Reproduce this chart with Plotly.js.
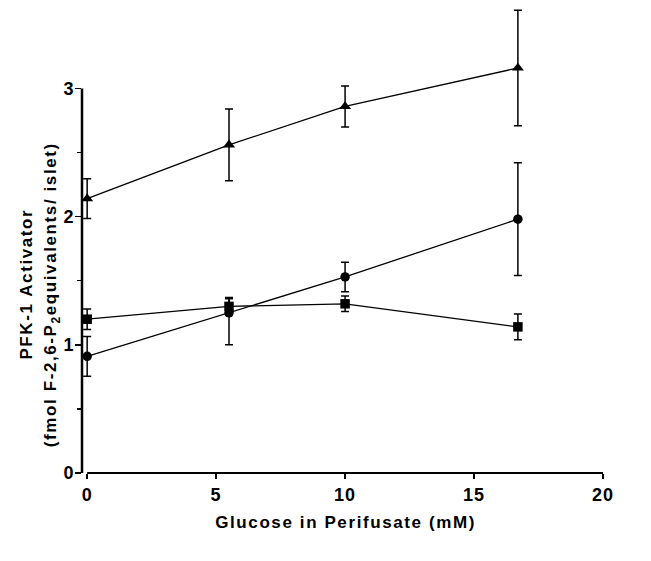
<!DOCTYPE html>
<html>
<head>
<meta charset="utf-8">
<script src="https://cdn.plot.ly/plotly-3.0.1.min.js"></script>
<style>
html,body{margin:0;padding:0;background:#fff;}
#chart{width:651px;height:561px;}
#chart .annotation-text{letter-spacing:1.6px;}
#chart .xtick text, #chart .ytick text{letter-spacing:1px;}
</style>
</head>
<body>
<div id="chart"></div>
<script>
var glucose = [0, 5.5, 10, 16.7];
var triangleVals = [2.14, 2.56, 2.86, 3.16];
var triangleErr = [0.155, 0.28, 0.16, 0.45];
var circleVals = [0.91, 1.25, 1.53, 1.98];
var circleErrUp = [0.155, 0.11, 0.115, 0.44];
var circleErrDown = [0.155, 0.25, 0.115, 0.44];
var squareVals = [1.20, 1.30, 1.32, 1.14];
var squareErr = [0.08, 0.07, 0.06, 0.10];
var xTicks = [0, 5, 10, 15, 20];
var yTicks = [0, 1, 2, 3];
var xTitle = 'Glucose in Perifusate (mM)';
var yTitleLine1 = 'PFK-1 Activator';
var yTitleLine2 = '(fmol F-2,6-P<sub>2</sub>equivalents/ islet)';

var FONT = 'Liberation Sans, Arial, sans-serif';
function series(vals, up, down, sym, size) {
  return {
    x: glucose, y: vals, type: 'scatter', mode: 'lines+markers',
    line: {color: '#000', width: 1.3},
    marker: {symbol: sym, size: size, color: '#000'},
    error_y: {type: 'data', symmetric: false, array: up, arrayminus: down, visible: true, color: '#000', thickness: 1.5, width: 4},
    cliponaxis: false, showlegend: false
  };
}
var data = [
  series(triangleVals, triangleErr, triangleErr, 'triangle-up', 10.5),
  series(circleVals, circleErrUp, circleErrDown, 'circle', 9.5),
  series(squareVals, squareErr, squareErr, 'square', 9.5)
];
var titleFont = {family: FONT, size: 17, color: '#000', weight: 'bold'};
var tickFont = {family: FONT, size: 18, color: '#000', weight: 'bold'};
var layout = {
  width: 651, height: 561,
  margin: {l: 82, r: 48, t: 9, b: 88},
  paper_bgcolor: '#fff', plot_bgcolor: '#fff',
  font: {family: FONT, color: '#000', size: 17},
  xaxis: {
    range: [-0.2, 20], tickvals: xTicks, ticktext: xTicks.map(String),
    ticks: 'outside', ticklen: 5, tickwidth: 1.5, tickcolor: '#000',
    showgrid: false, zeroline: false, showline: false, tickfont: tickFont
  },
  yaxis: {
    range: [0, 3.62], tickvals: yTicks, ticktext: yTicks.map(String),
    ticks: 'outside', ticklen: 6, tickwidth: 1.5, tickcolor: '#000',
    ticklabelstandoff: -3,
    minor: {tickvals: [0.5, 1.5, 2.5], ticks: 'outside', ticklen: 4, tickwidth: 1.3, tickcolor: '#000'},
    showgrid: false, zeroline: false, showline: false, tickfont: tickFont
  },
  shapes: [
    {type: 'line', xref: 'paper', yref: 'y', x0: 0, x1: 0, y0: 0, y1: 3, line: {color: '#000', width: 2.5}},
    {type: 'line', xref: 'x', yref: 'paper', x0: 0, x1: 20, y0: 0, y1: 0, line: {color: '#000', width: 2}}
  ],
  annotations: [
    {text: xTitle, xref: 'x', yref: 'paper', x: 10, y: 0, yshift: -49, yanchor: 'middle', showarrow: false, font: titleFont},
    {text: yTitleLine1, xref: 'paper', yref: 'y', x: 0, xshift: -55, y: 1.47, textangle: -90, showarrow: false,
     xanchor: 'center', yanchor: 'middle', font: titleFont},
    {text: yTitleLine2, xref: 'paper', yref: 'y', x: 0, xshift: -30, y: 1.39, textangle: -90, showarrow: false,
     xanchor: 'center', yanchor: 'middle', font: titleFont}
  ]
};
Plotly.newPlot('chart', data, layout, {displayModeBar: false, staticPlot: true});
</script>
</body>
</html>
